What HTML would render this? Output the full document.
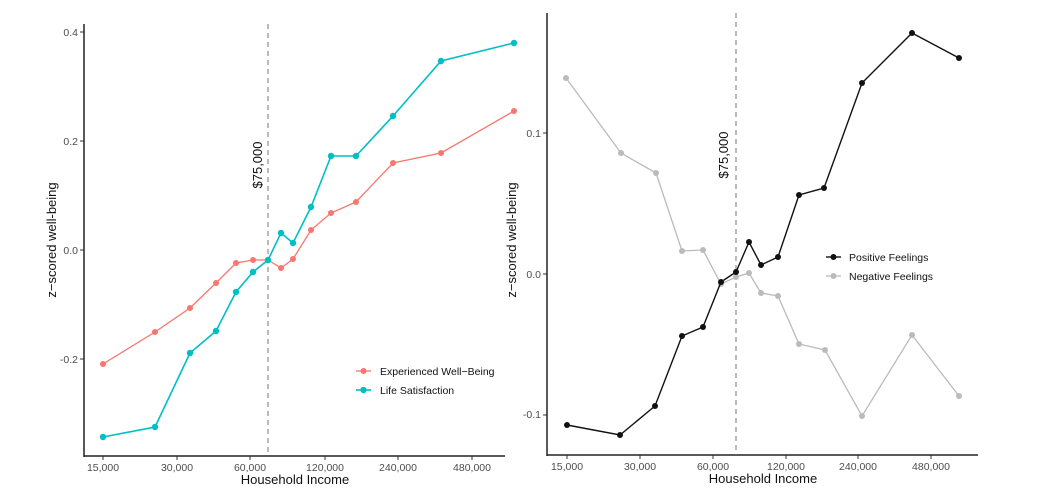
<!DOCTYPE html>
<html><head><meta charset="utf-8"><style>body{margin:0;background:#fff}svg{display:block}text{font-family:"Liberation Sans",sans-serif}</style></head><body>
<svg width="1042" height="502" viewBox="0 0 1042 502">
<g font-size="10.5" fill="#4d4d4d" text-anchor="end">
<text x="78" y="36">0.4</text><text x="78" y="145">0.2</text><text x="78" y="254">0.0</text><text x="78" y="363">-0.2</text>
</g>
<g stroke="#333" stroke-width="1"><line x1="80" y1="32" x2="84" y2="32"/><line x1="80" y1="141" x2="84" y2="141"/><line x1="80" y1="250" x2="84" y2="250"/><line x1="80" y1="359" x2="84" y2="359"/></g>
<line x1="84" y1="24" x2="84" y2="457" stroke="#222" stroke-width="1.5"/>
<line x1="84" y1="456" x2="505" y2="456" stroke="#222" stroke-width="1.5"/>
<g stroke="#333"><line x1="103" y1="456" x2="103" y2="460"/><line x1="177" y1="456" x2="177" y2="460"/><line x1="250" y1="456" x2="250" y2="460"/><line x1="325" y1="456" x2="325" y2="460"/><line x1="398" y1="456" x2="398" y2="460"/><line x1="472" y1="456" x2="472" y2="460"/></g>
<g font-size="10.5" fill="#4d4d4d" text-anchor="middle">
<text x="103" y="471">15,000</text><text x="177" y="471">30,000</text><text x="250" y="471">60,000</text><text x="325" y="471">120,000</text><text x="398" y="471">240,000</text><text x="472" y="471">480,000</text>
</g>
<text x="295" y="484" font-size="13" text-anchor="middle" fill="#111">Household Income</text>
<text transform="translate(56,240) rotate(-90)" font-size="13" text-anchor="middle" fill="#111">z−scored well-being</text>
<line x1="268" y1="24" x2="268" y2="456" stroke="#777" stroke-dasharray="5,4"/>
<text transform="translate(262,165) rotate(-90)" font-size="13" text-anchor="middle" fill="#111">$75,000</text>
<polyline fill="none" stroke="#F8766D" stroke-width="1.3" points="103,364 155,332 190,308 216,283 236,263 253,260 268,260 281,268 293,259 311,230 331,213 356,202 393,163 441,153 514,111"/>
<g fill="#F8766D"><circle cx="103" cy="364" r="3"/><circle cx="155" cy="332" r="3"/><circle cx="190" cy="308" r="3"/><circle cx="216" cy="283" r="3"/><circle cx="236" cy="263" r="3"/><circle cx="253" cy="260" r="3"/><circle cx="268" cy="260" r="3"/><circle cx="281" cy="268" r="3"/><circle cx="293" cy="259" r="3"/><circle cx="311" cy="230" r="3"/><circle cx="331" cy="213" r="3"/><circle cx="356" cy="202" r="3"/><circle cx="393" cy="163" r="3"/><circle cx="441" cy="153" r="3"/><circle cx="514" cy="111" r="3"/></g>
<polyline fill="none" stroke="#00BFC4" stroke-width="1.6" points="103,437 155,427 190,353 216,331 236,292 253,272 268,260 281,233 293,243 311,207 331,156 356,156 393,116 441,61 514,43"/>
<g fill="#00BFC4"><circle cx="103" cy="437" r="3.2"/><circle cx="155" cy="427" r="3.2"/><circle cx="190" cy="353" r="3.2"/><circle cx="216" cy="331" r="3.2"/><circle cx="236" cy="292" r="3.2"/><circle cx="253" cy="272" r="3.2"/><circle cx="268" cy="260" r="3.2"/><circle cx="281" cy="233" r="3.2"/><circle cx="293" cy="243" r="3.2"/><circle cx="311" cy="207" r="3.2"/><circle cx="331" cy="156" r="3.2"/><circle cx="356" cy="156" r="3.2"/><circle cx="393" cy="116" r="3.2"/><circle cx="441" cy="61" r="3.2"/><circle cx="514" cy="43" r="3.2"/></g>
<line x1="356" y1="371" x2="371" y2="371" stroke="#F8766D" stroke-width="1.3"/><circle cx="363.5" cy="371" r="3" fill="#F8766D"/>
<line x1="356" y1="390" x2="371" y2="390" stroke="#00BFC4" stroke-width="1.6"/><circle cx="363.5" cy="390" r="3.2" fill="#00BFC4"/>
<text x="380" y="375" font-size="10.5" fill="#111">Experienced Well−Being</text>
<text x="380" y="394" font-size="10.5" fill="#111">Life Satisfaction</text>

<g font-size="10.5" fill="#4d4d4d" text-anchor="end">
<text x="541" y="137">0.1</text><text x="541" y="278">0.0</text><text x="541" y="418">-0.1</text>
</g>
<g stroke="#333"><line x1="543" y1="133" x2="547" y2="133"/><line x1="543" y1="274" x2="547" y2="274"/><line x1="543" y1="415" x2="547" y2="415"/></g>
<line x1="547" y1="13" x2="547" y2="456" stroke="#222" stroke-width="1.5"/>
<line x1="547" y1="455" x2="978" y2="455" stroke="#222" stroke-width="1.5"/>
<g stroke="#333"><line x1="567" y1="455" x2="567" y2="459"/><line x1="640" y1="455" x2="640" y2="459"/><line x1="713" y1="455" x2="713" y2="459"/><line x1="786" y1="455" x2="786" y2="459"/><line x1="858" y1="455" x2="858" y2="459"/><line x1="931" y1="455" x2="931" y2="459"/></g>
<g font-size="10.5" fill="#4d4d4d" text-anchor="middle">
<text x="567" y="470">15,000</text><text x="640" y="470">30,000</text><text x="713" y="470">60,000</text><text x="786" y="470">120,000</text><text x="858" y="470">240,000</text><text x="931" y="470">480,000</text>
</g>
<text x="763" y="483" font-size="13" text-anchor="middle" fill="#111">Household Income</text>
<text transform="translate(516,240) rotate(-90)" font-size="13" text-anchor="middle" fill="#111">z−scored well-being</text>
<line x1="736" y1="13" x2="736" y2="455" stroke="#777" stroke-dasharray="5,4"/>
<text transform="translate(728,155) rotate(-90)" font-size="13" text-anchor="middle" fill="#111">$75,000</text>
<polyline fill="none" stroke="#bbb" stroke-width="1.3" points="566,78 621,153 656,173 682,251 703,250 721,284 736,277 749,273 761,293 778,296 799,344 825,350 862,416 912,335 959,396"/>
<g fill="#bbb"><circle cx="566" cy="78" r="3"/><circle cx="621" cy="153" r="3"/><circle cx="656" cy="173" r="3"/><circle cx="682" cy="251" r="3"/><circle cx="703" cy="250" r="3"/><circle cx="721" cy="284" r="3"/><circle cx="736" cy="277" r="3"/><circle cx="749" cy="273" r="3"/><circle cx="761" cy="293" r="3"/><circle cx="778" cy="296" r="3"/><circle cx="799" cy="344" r="3"/><circle cx="825" cy="350" r="3"/><circle cx="862" cy="416" r="3"/><circle cx="912" cy="335" r="3"/><circle cx="959" cy="396" r="3"/></g>
<polyline fill="none" stroke="#111" stroke-width="1.4" points="567,425 620,435 655,406 682,336 703,327 721,282 736,272 749,242 761,265 778,257 799,195 824,188 862,83 912,33 959,58"/>
<g fill="#111"><circle cx="567" cy="425" r="3"/><circle cx="620" cy="435" r="3"/><circle cx="655" cy="406" r="3"/><circle cx="682" cy="336" r="3"/><circle cx="703" cy="327" r="3"/><circle cx="721" cy="282" r="3"/><circle cx="736" cy="272" r="3"/><circle cx="749" cy="242" r="3"/><circle cx="761" cy="265" r="3"/><circle cx="778" cy="257" r="3"/><circle cx="799" cy="195" r="3"/><circle cx="824" cy="188" r="3"/><circle cx="862" cy="83" r="3"/><circle cx="912" cy="33" r="3"/><circle cx="959" cy="58" r="3"/></g>
<line x1="826" y1="257" x2="841" y2="257" stroke="#111" stroke-width="1.4"/><circle cx="833.5" cy="257" r="3" fill="#111"/>
<line x1="826" y1="276" x2="841" y2="276" stroke="#bbb" stroke-width="1.3"/><circle cx="833.5" cy="276" r="3" fill="#bbb"/>
<text x="849" y="261" font-size="10.5" fill="#111">Positive Feelings</text>
<text x="849" y="280" font-size="10.5" fill="#111">Negative Feelings</text>
</svg>
</body></html>
